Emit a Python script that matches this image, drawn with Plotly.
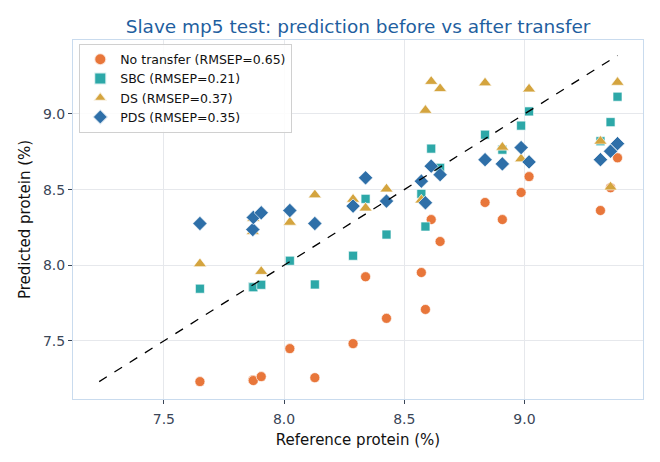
import plotly.graph_objects as go

# Reference protein (%) for each test sample
reference = [7.650, 7.870, 7.872, 7.905, 8.024, 8.128, 8.287, 8.339, 8.426, 8.571,
             8.588, 8.612, 8.649, 8.836, 8.908, 8.986, 9.019, 9.316, 9.358, 9.387]

no_transfer = [7.231, 7.242, 7.238, 7.264, 7.449, 7.257, 7.482, 7.924, 7.649, 7.952,
               7.708, 8.302, 8.157, 8.415, 8.302, 8.481, 8.586, 8.362, 8.512, 8.710]
sbc = [7.845, 7.857, 7.855, 7.871, 8.030, 7.873, 8.063, 8.439, 8.203, 8.472,
       8.256, 8.771, 8.644, 8.863, 8.764, 8.923, 9.017, 8.820, 8.946, 9.114]
ds = [8.010, 8.223, 8.310, 7.959, 8.284, 8.465, 8.436, 8.378, 8.504, 8.431,
      9.024, 9.215, 9.167, 9.205, 8.780, 8.703, 9.165, 8.820, 8.517, 9.209]
pds = [8.276, 8.236, 8.316, 8.347, 8.362, 8.276, 8.391, 8.578, 8.424, 8.556,
       8.413, 8.655, 8.599, 8.698, 8.670, 8.778, 8.683, 8.698, 8.754, 8.804]

series_names = ["No transfer (RMSEP=0.65)", "SBC (RMSEP=0.21)",
                "DS (RMSEP=0.37)", "PDS (RMSEP=0.35)"]
series_values = [no_transfer, sbc, ds, pds]
series_colors = ["#E8763A", "#2DA8A8", "#D4A43E", "#2E6FA8"]
series_symbols = ["circle", "square", "triangle-up", "diamond"]
series_sizes = [10, 9, 11.5, 11]

x_ticks = [7.5, 8.0, 8.5, 9.0]
y_ticks = [7.5, 8.0, 8.5, 9.0]

fig = go.Figure()
for name, vals, col, sym, sz in zip(series_names, series_values, series_colors,
                                    series_symbols, series_sizes):
    fig.add_trace(go.Scatter(
        x=reference, y=vals, mode="markers", name=name,
        marker=dict(color=col, symbol=sym, size=sz,
                    line=dict(color="rgba(255,255,255,0.8)", width=0.8))))

all_vals = reference + no_transfer + sbc + ds + pds
lo, hi = min(all_vals), max(all_vals)
fig.add_trace(go.Scatter(x=[lo, hi], y=[lo, hi], mode="lines", showlegend=False,
                         line=dict(color="black", width=1.3, dash="dash"),
                         hoverinfo="skip"))

axis_common = dict(
    showgrid=True, gridcolor="#E6E8EC", gridwidth=1,
    showline=True, linecolor="#C9DBEE", linewidth=1, mirror=True,
    ticks="outside", ticklen=4, tickcolor="#3A4658", tickwidth=1,
    tickfont=dict(size=14, color="#3A4658", family="DejaVu Sans"),
    zeroline=False,
)

fig.update_layout(
    width=660, height=462,
    margin=dict(l=73, r=17, t=40, b=63),
    paper_bgcolor="white", plot_bgcolor="white",
    font=dict(family="DejaVu Sans", color="#222222"),
    title=dict(text="Slave mp5 test: prediction before vs after transfer",
               x=0.5425, xanchor="center", y=0.943, yanchor="middle",
               font=dict(size=18.5, color="#1F5FA0", family="DejaVu Sans")),
    xaxis=dict(range=[7.122, 9.493], tickvals=x_ticks,
               ticktext=[f"{v:.1f}" for v in x_ticks],
               ticklabelstandoff=3,
               title=dict(text="Reference protein (%)", standoff=8,
                          font=dict(size=15, color="#111111")),
               **axis_common),
    yaxis=dict(range=[7.116, 9.489], tickvals=y_ticks,
               ticktext=[f"{v:.1f}" for v in y_ticks],
               title=dict(text="Predicted protein (%)", standoff=8,
                          font=dict(size=15, color="#111111")),
               **axis_common),
    legend=dict(x=0.011, y=0.99, xanchor="left", yanchor="top",
                bgcolor="rgba(255,255,255,0.85)", bordercolor="#D0D0D0",
                borderwidth=1, font=dict(size=12.5, color="#111111"),
                itemsizing="constant", tracegroupgap=0),
    showlegend=True,
)

fig.write_html("out.html")
